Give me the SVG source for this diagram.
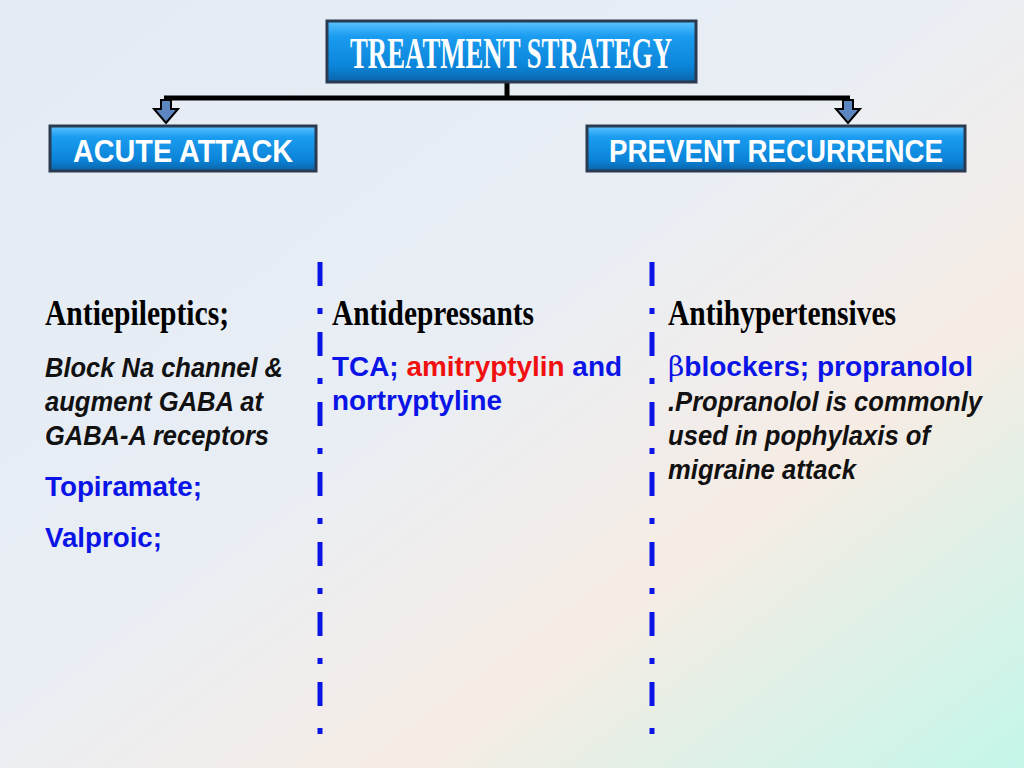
<svg xmlns="http://www.w3.org/2000/svg" width="1024" height="768" viewBox="0 0 1024 768">
<defs>
<linearGradient id="bg" x1="0" y1="0" x2="1" y2="1">
<stop offset="0" stop-color="#e4ebf4"/><stop offset="0.45" stop-color="#e9eef5"/><stop offset="0.7" stop-color="#f6ece4"/><stop offset="1" stop-color="#c4f6ea"/>
</linearGradient>
<linearGradient id="btn" x1="0" y1="0" x2="0" y2="1">
<stop offset="0" stop-color="#5cc3ff"/><stop offset="0.25" stop-color="#1a9cf0"/><stop offset="0.75" stop-color="#0b84d8"/><stop offset="1" stop-color="#0a63a8"/>
</linearGradient>
<path id="arr" d="M-5,0 H5 V9 H12 L0,23 L-12,9 H-5 Z" fill="#5b86c0" stroke="#000" stroke-width="2"/>
</defs>
<style>
.box{fill:url(#btn);stroke:#2a3a50;stroke-width:3}
.bt{fill:#fff;font-family:"Liberation Sans",Arial,sans-serif;font-weight:bold;font-size:32px;text-anchor:middle}
.hd{font-family:"Liberation Serif","DejaVu Serif",serif;font-weight:bold;font-size:36px;fill:#000}
.tx{font-family:"Liberation Sans",Arial,sans-serif;font-weight:bold;font-size:28px}
.it{font-style:italic;fill:#111}
.b{fill:#0a14e6}.r{fill:#f01010}
.dl{stroke:#0a14e6;stroke-width:5;stroke-dasharray:24 22 6 18;fill:none}
</style>
<rect width="1024" height="768" fill="url(#bg)"/>
<g id="connectors" fill="none" stroke="#000" stroke-width="5">
<line x1="507" y1="82" x2="507" y2="98"/>
<line x1="164" y1="98" x2="850" y2="98"/>
<use href="#arr" x="166" y="100"/>
<use href="#arr" x="848" y="100"/>
</g>
<g id="treatment"><rect class="box" x="327" y="21" width="369" height="61"/><text class="bt" x="511" y="68" style="font-family:'Liberation Serif',serif;font-size:44px" textLength="322" lengthAdjust="spacingAndGlyphs">TREATMENT STRATEGY</text></g>
<g id="acute"><rect class="box" x="50" y="126" width="266" height="45"/><text class="bt" x="183" y="162" textLength="220" lengthAdjust="spacingAndGlyphs">ACUTE  ATTACK</text></g>
<g id="prevent"><rect class="box" x="587" y="126" width="378" height="45"/><text class="bt" x="776" y="162" textLength="334" lengthAdjust="spacingAndGlyphs">PREVENT RECURRENCE</text></g>
<g id="dividers"><line class="dl" x1="320" y1="262" x2="320" y2="740"/><line class="dl" x1="652" y1="262" x2="652" y2="740"/></g>
<g id="col1">
<text class="hd" x="45" y="325" textLength="184" lengthAdjust="spacingAndGlyphs">Antiepileptics;</text>
<text class="tx it" x="45" y="377" textLength="238" lengthAdjust="spacingAndGlyphs">Block Na channel &amp;</text>
<text class="tx it" x="45" y="411" textLength="218" lengthAdjust="spacingAndGlyphs">augment GABA at</text>
<text class="tx it" x="45" y="445" textLength="224" lengthAdjust="spacingAndGlyphs">GABA-A receptors</text>
<text class="tx b" x="45" y="496" textLength="157" lengthAdjust="spacingAndGlyphs">Topiramate;</text>
<text class="tx b" x="45" y="547" textLength="117" lengthAdjust="spacingAndGlyphs">Valproic;</text>
</g>
<g id="col2">
<text class="hd" x="332" y="325" textLength="202" lengthAdjust="spacingAndGlyphs">Antidepressants</text>
<text class="tx" x="332" y="376" textLength="290" lengthAdjust="spacingAndGlyphs"><tspan class="b">TCA; </tspan><tspan class="r">amitryptylin</tspan><tspan class="b"> and</tspan></text>
<text class="tx b" x="332" y="410" textLength="170" lengthAdjust="spacingAndGlyphs">nortryptyline</text>
</g>
<g id="col3">
<text class="hd" x="668" y="325" textLength="228" lengthAdjust="spacingAndGlyphs">Antihypertensives</text>
<text class="tx b" x="668" y="376" textLength="305" lengthAdjust="spacingAndGlyphs"><tspan style="font-weight:normal;font-family:'DejaVu Serif',serif">β</tspan>blockers; propranolol</text>
<text class="tx it" x="668" y="411" textLength="314" lengthAdjust="spacingAndGlyphs">.Propranolol is commonly</text>
<text class="tx it" x="668" y="445" textLength="262" lengthAdjust="spacingAndGlyphs">used in pophylaxis of</text>
<text class="tx it" x="668" y="479" textLength="188" lengthAdjust="spacingAndGlyphs">migraine attack</text>
</g>
</svg>
